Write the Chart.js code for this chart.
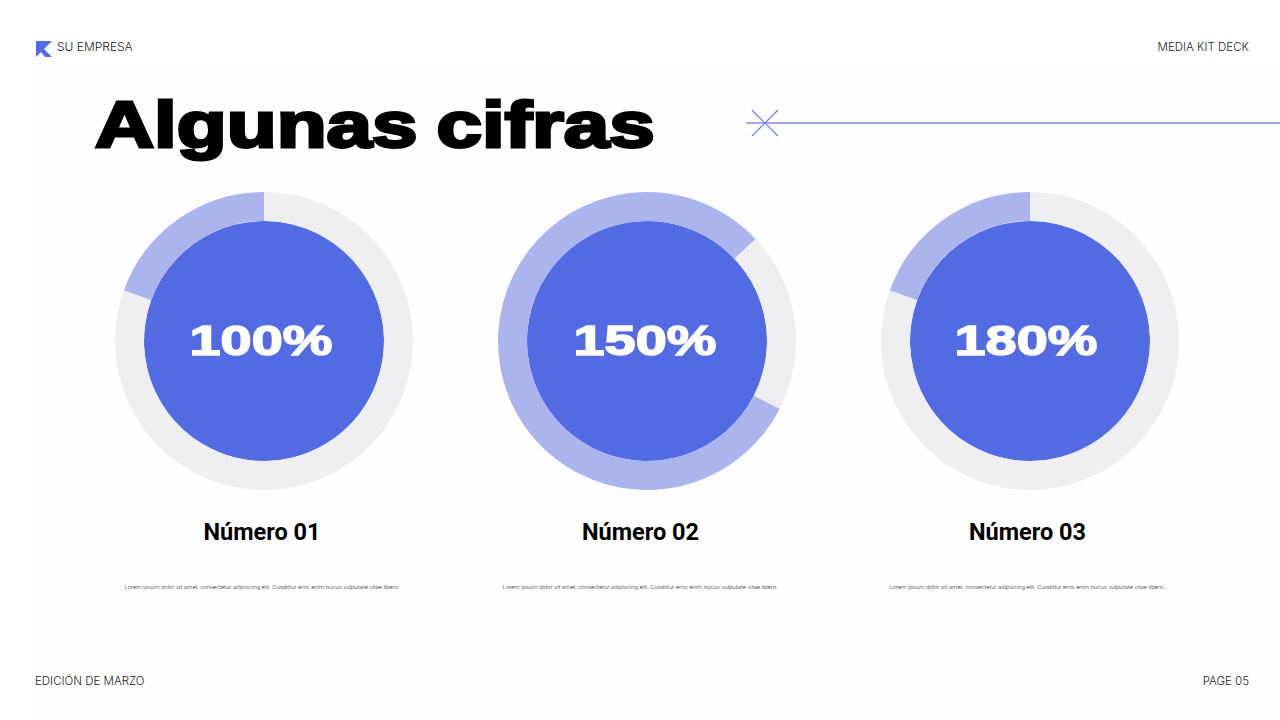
<!DOCTYPE html>
<html lang="es">
<head>
<meta charset="utf-8">
<title>Algunas cifras</title>
<script src="https://cdn.jsdelivr.net/npm/chart.js@4"></script>
<style>
  html, body { margin: 0; padding: 0; background: #fff; }
  #page { position: relative; width: 1280px; height: 720px; overflow: hidden; background: #fff; font-family: Inter, sans-serif; }
  #panel { position: absolute; left: 30px; top: 65px; width: 1250px; height: 655px; background: #fefefe; }
  .small { position: absolute; font-size: 11.5px; font-weight: 300; color: #222; line-height: 14px; white-space: nowrap; }
  #title { position: absolute; left: 95px; top: 85px; font: 900 65px/80px "Liberation Sans", sans-serif; word-spacing: -3px; color: #000; -webkit-text-stroke: 3px #000; white-space: nowrap; transform-origin: left top; transform: scaleX(1.258); }
  .ring { position: absolute; top: 192px; width: 298px; height: 298px; }
  .pct { position: absolute; width: 200px; text-align: center; font: 900 42px/50px "Liberation Sans", sans-serif; color: #fff; -webkit-text-stroke: 1.5px #fff; transform: scaleX(1.33); }
  .name { position: absolute; top: 517px; width: 240px; text-align: center; font: 700 23.5px/30px Roboto, sans-serif; color: #000; }
  .desc { position: absolute; top: 582px; width: 320px; text-align: center; font: 300 6.05px/10px Roboto, sans-serif; color: #222; white-space: nowrap; }
  svg { position: absolute; left: 0; top: 0; }
</style>
</head>
<body>
<div id="page">
  <div id="panel"></div>
  <svg width="1280" height="720">
    <polygon points="36,41 52,41 44,49 52,57 45,57 41,52 36,57" fill="#526be3"/>
    <line x1="746" y1="123" x2="1280" y2="123" stroke="#7f8ce6" stroke-width="1.3"/>
    <line x1="752" y1="110" x2="778" y2="136" stroke="#6a78d8" stroke-width="1.1"/>
    <line x1="778" y1="110" x2="752" y2="136" stroke="#6a78d8" stroke-width="1.1"/>
  </svg>
  <div class="small" style="left:57px;top:40px;font-size:12px">SU EMPRESA</div>
  <div class="small" style="right:31px;top:40px">MEDIA KIT DECK</div>
  <div class="small" style="left:35px;top:674px">EDICIÓN DE MARZO</div>
  <div class="small" style="right:31px;top:674px">PAGE 05</div>
  <div id="title">Algunas cifras</div>
  <div id="charts"></div>
</div>
<script>
const names = ['Número 01', 'Número 02', 'Número 03'];
const percentLabels = ['100%', '150%', '180%'];
const filled = [19.5, 80.5, 19.5];
const rest = [80.5, 19.5, 80.5];
const rotations = [-70.2, 117, -70.2];
const loremText = 'Lorem ipsum dolor sit amet, consectetur adipiscing elit. Curabitur eros enim nucus vulputate vitae libero.';

const ringCenters = [264, 647, 1030];
const labelCenters = [261, 645, 1026];
const nameCenters = [262, 640.5, 1027.5];
const descCenters = [262, 640, 1027];

const dark = '#526be3';
const light = '#a9b5ec';
const gray = '#efeef0';

const holder = document.getElementById('charts');

names.forEach((name, i) => {
    const box = document.createElement('div');
    box.className = 'ring';
    box.style.left = (ringCenters[i] - 149) + 'px';
    const canvas = document.createElement('canvas');
    box.appendChild(canvas);
    holder.appendChild(box);

    // el primer dataset queda fuera; el disco central es el segundo
    new Chart(canvas.getContext('2d'), {
        type: 'doughnut',
        data: {
            labels: ['Cifra', 'Resto'],
            datasets: [
                { data: [filled[i], rest[i]], backgroundColor: [light, gray], borderWidth: 0, weight: 29 },
                { data: [filled[i] + rest[i]], backgroundColor: [dark], borderWidth: 0, weight: 120 }
            ]
        },
        options: {
            responsive: true,
            maintainAspectRatio: false,
            animation: false,
            cutout: 0,
            rotation: rotations[i],
            plugins: { legend: { display: false }, tooltip: { enabled: false } }
        }
    });

    const pct = document.createElement('div');
    pct.className = 'pct';
    pct.textContent = percentLabels[i];
    pct.style.left = (labelCenters[i] - 100) + 'px';
    pct.style.top = '316px';
    holder.appendChild(pct);

    const title = document.createElement('div');
    title.className = 'name';
    title.textContent = name;
    title.style.left = (nameCenters[i] - 120) + 'px';
    holder.appendChild(title);

    const desc = document.createElement('div');
    desc.className = 'desc';
    desc.textContent = loremText;
    desc.style.left = (descCenters[i] - 160) + 'px';
    holder.appendChild(desc);
});
</script>
</body>
</html>
